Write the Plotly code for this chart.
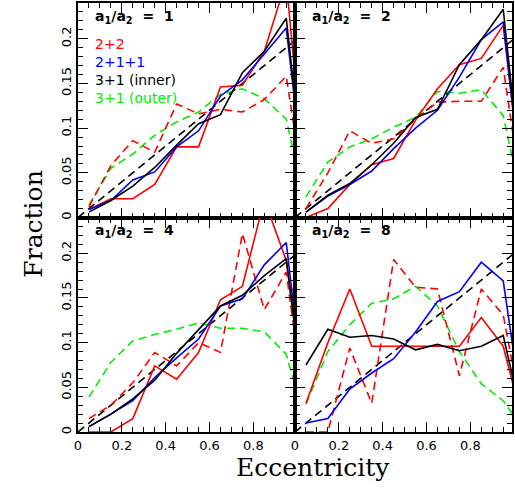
import plotly.graph_objects as go

# Bin centres of the eccentricity histogram, plus the empty bin past e = 1
ecc = [0.05, 0.15, 0.25, 0.35, 0.45, 0.55, 0.65, 0.75, 0.85, 0.95, 1.05]

# Thermal reference distribution f(e) = 2e per unit e, 0.1-wide bins
thermal_e = [0.0, 0.5, 1.0]
thermal_f = [0.0, 0.1, 0.2]

# a1/a2 = 1
r1_22 = [0.009, 0.021, 0.021, 0.037, 0.079, 0.079, 0.146, 0.148, 0.186, 0.265, 0.0]
r1_22_dash = [0.012, 0.058, 0.086, 0.073, 0.127, 0.116, 0.121, 0.118, 0.132, 0.158, 0.0]
r1_211 = [0.009, 0.019, 0.042, 0.051, 0.079, 0.097, 0.136, 0.154, 0.183, 0.212, 0.0]
r1_31_in = [0.006, 0.019, 0.035, 0.056, 0.081, 0.105, 0.115, 0.162, 0.186, 0.223, 0.0]
r1_31_out = [0.014, 0.055, 0.071, 0.092, 0.107, 0.118, 0.138, 0.144, 0.133, 0.110, 0.0]

# a1/a2 = 2
r2_22 = [0.0, 0.010, 0.037, 0.059, 0.066, 0.109, 0.144, 0.171, 0.178, 0.215, 0.0]
r2_22_dash = [0.010, 0.050, 0.097, 0.083, 0.088, 0.110, 0.129, 0.130, 0.130, 0.168, 0.0]
r2_211 = [0.006, 0.024, 0.037, 0.052, 0.077, 0.100, 0.120, 0.157, 0.199, 0.219, 0.0]
r2_31_in = [0.006, 0.025, 0.038, 0.059, 0.083, 0.112, 0.121, 0.171, 0.199, 0.233, 0.0]
r2_31_out = [0.023, 0.062, 0.079, 0.088, 0.101, 0.112, 0.141, 0.139, 0.143, 0.114, 0.0]

# a1/a2 = 4
r4_22 = [0.0, 0.0, 0.015, 0.074, 0.059, 0.089, 0.148, 0.163, 0.260, 0.192, 0.0]
r4_22_dash = [0.015, 0.030, 0.055, 0.089, 0.074, 0.100, 0.089, 0.222, 0.137, 0.179, 0.0]
r4_211 = [0.006, 0.020, 0.035, 0.061, 0.083, 0.104, 0.141, 0.149, 0.187, 0.212, 0.0]
r4_31_in = [0.006, 0.020, 0.037, 0.058, 0.088, 0.115, 0.141, 0.153, 0.175, 0.194, 0.0]
r4_31_out = [0.039, 0.078, 0.102, 0.109, 0.115, 0.122, 0.116, 0.116, 0.112, 0.087, 0.0]

# a1/a2 = 8
r8_22 = [0.032, 0.100, 0.160, 0.096, 0.096, 0.096, 0.096, 0.096, 0.128, 0.096, 0.0]
r8_22_dash = [0.0, 0.0, 0.094, 0.032, 0.193, 0.162, 0.160, 0.063, 0.160, 0.131, 0.0]
r8_211 = [0.010, 0.015, 0.048, 0.066, 0.082, 0.112, 0.146, 0.157, 0.190, 0.169, 0.0]
r8_31_in = [0.075, 0.115, 0.106, 0.108, 0.104, 0.092, 0.098, 0.091, 0.096, 0.108, 0.0]
r8_31_out = [0.031, 0.090, 0.120, 0.144, 0.149, 0.163, 0.141, 0.090, 0.054, 0.035, 0.0]

ratio_labels = ["1", "2", "4", "8"]
legend_names = ["2+2", "2+1+1", "3+1 (inner)", "3+1 (outer)"]

RED, BLUE, BLACK, GREEN = "#ff0000", "#0000ff", "#000000", "#00ee00"
DASH = "8px,5px"

panels = [
    (r1_22, r1_22_dash, r1_211, r1_31_in, r1_31_out),
    (r2_22, r2_22_dash, r2_211, r2_31_in, r2_31_out),
    (r4_22, r4_22_dash, r4_211, r4_31_in, r4_31_out),
    (r8_22, r8_22_dash, r8_211, r8_31_in, r8_31_out),
]

fig = go.Figure()

for i, (s22, s22d, s211, s31i, s31o) in enumerate(panels):
    xa = "x" if i == 0 else f"x{i + 1}"
    ya = "y" if i == 0 else f"y{i + 1}"
    common = dict(xaxis=xa, yaxis=ya, mode="lines", showlegend=False, hoverinfo="skip")
    fig.add_trace(go.Scatter(x=thermal_e, y=thermal_f,
                             line=dict(color=BLACK, width=1.6, dash=DASH), **common))
    fig.add_trace(go.Scatter(x=ecc, y=s31o, line=dict(color=GREEN, width=1.6, dash=DASH), **common))
    fig.add_trace(go.Scatter(x=ecc, y=s22d, line=dict(color=RED, width=1.6, dash=DASH), **common))
    fig.add_trace(go.Scatter(x=ecc, y=s22, line=dict(color=RED, width=1.6), **common))
    fig.add_trace(go.Scatter(x=ecc, y=s211, line=dict(color=BLUE, width=1.6), **common))
    fig.add_trace(go.Scatter(x=ecc, y=s31i, line=dict(color=BLACK, width=1.6), **common))

tick_font = dict(family="DejaVu Sans", size=13, color="black")


def xaxis_cfg(domain, anchor, labels):
    return dict(domain=domain, anchor=anchor, range=[0, 0.99],
                tickvals=[0, 0.2, 0.4, 0.6, 0.8], ticktext=["0", "0.2", "0.4", "0.6", "0.8"],
                showticklabels=labels, ticks="inside", ticklen=10, tickwidth=1.2,
                tickcolor="black", minor=dict(dtick=0.05, ticks="inside", ticklen=5,
                                              tickwidth=1.2, tickcolor="black"),
                showline=True, linewidth=2, linecolor="black", mirror="ticks",
                showgrid=False, zeroline=False, tickfont=tick_font)


def yaxis_cfg(domain, anchor, labels):
    return dict(domain=domain, anchor=anchor, range=[0, 0.24],
                tickvals=[0, 0.05, 0.1, 0.15, 0.2], ticktext=["0", "0.05", "0.1", "0.15", "0.2"],
                showticklabels=labels, tickangle=-90, ticks="inside", ticklen=10,
                tickwidth=1.2, tickcolor="black",
                minor=dict(dtick=0.01, ticks="inside", ticklen=5, tickwidth=1.2, tickcolor="black"),
                showline=True, linewidth=2, linecolor="black", mirror="ticks",
                showgrid=False, zeroline=False, tickfont=tick_font)


fig.update_layout(
    xaxis=xaxis_cfg([0, 0.5], "y", False),
    yaxis=yaxis_cfg([0.5, 1], "x", True),
    xaxis2=xaxis_cfg([0.5, 1], "y2", False),
    yaxis2=yaxis_cfg([0.5, 1], "x2", False),
    xaxis3=xaxis_cfg([0, 0.5], "y3", True),
    yaxis3=yaxis_cfg([0, 0.5], "x3", True),
    xaxis4=xaxis_cfg([0.5, 1], "y4", True),
    yaxis4=yaxis_cfg([0, 0.5], "x4", False),
)

annotations = []
for i, lab in enumerate(ratio_labels):
    xa = "x" if i == 0 else f"x{i + 1}"
    ya = "y" if i == 0 else f"y{i + 1}"
    annotations.append(dict(
        text=f"<b>a<sub>1</sub>/a<sub>2</sub>  =  {lab}</b>",
        xref=f"{xa} domain", yref=f"{ya} domain", x=0.07, y=0.935,
        xanchor="left", yanchor="middle", showarrow=False,
        font=dict(family="DejaVu Sans", size=14, color="black")))

legend_colors = [RED, BLUE, BLACK, GREEN]
legend_y = [0.81, 0.726, 0.643, 0.555]
for name, col, yy in zip(legend_names, legend_colors, legend_y):
    annotations.append(dict(
        text=name, xref="x domain", yref="y domain", x=0.07, y=yy,
        xanchor="left", yanchor="middle", showarrow=False,
        font=dict(family="DejaVu Sans", size=14, color=col)))

annotations.append(dict(text="Fraction", xref="paper", yref="paper", x=-0.103, y=0.484,
                        textangle=-90, xanchor="center", yanchor="middle", showarrow=False,
                        font=dict(family="DejaVu Serif", size=25, color="black")))
annotations.append(dict(text="Eccentricity", xref="paper", yref="paper", x=0.541, y=-0.0835,
                        xanchor="center", yanchor="middle", showarrow=False,
                        font=dict(family="DejaVu Serif", size=25, color="black")))

fig.update_layout(
    width=515, height=488,
    margin=dict(l=78, r=1, t=1, b=56),
    paper_bgcolor="white", plot_bgcolor="white",
    annotations=annotations,
)

fig.write_html("out.html")
